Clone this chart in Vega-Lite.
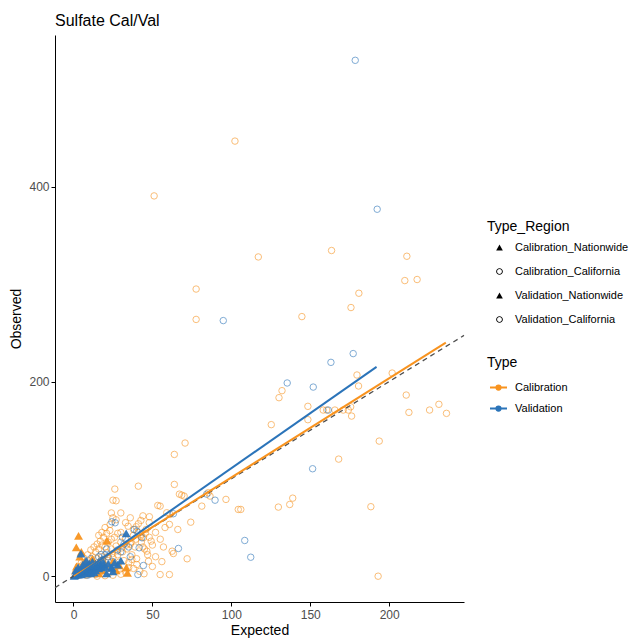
{
  "$schema": "https://vega.github.io/schema/vega-lite/v6.json",
  "width": 409,
  "height": 567,
  "autosize": {"type": "none"},
  "padding": {"left": 55, "top": 35, "right": 167, "bottom": 37},
  "background": "white",
  "title": {"text": "Sulfate Cal/Val", "anchor": "start", "frame": "group", "fontSize": 16, "font": "Liberation Sans", "fontWeight": "normal", "color": "#000000", "offset": 10, "baseline": "alphabetic", "dy": 17},
  "config": {
    "view": {"stroke": null},
    "font": "Liberation Sans",
    "axis": {"grid": false, "domainColor": "#000000", "domainWidth": 1, "tickColor": "#000000", "tickSize": 4, "tickWidth": 1, "labelColor": "#4D4D4D", "labelFontSize": 12, "labelFont": "Liberation Sans", "titleFont": "Liberation Sans", "titleFontSize": 14, "titleFontWeight": "normal", "titleColor": "#000000"},
    "legend": {"titleFont": "Liberation Sans", "titleFontSize": 14, "titleFontWeight": "normal", "titleColor": "#000000", "labelFont": "Liberation Sans", "labelFontSize": 11, "labelColor": "#000000"}
  },
  "datasets": {
    "cc": [
      {"e":102.3,"o":447},{"e":51.1,"o":390.7},{"e":163.5,"o":334.6},{"e":117.1,"o":328},{"e":211.2,"o":328.7},{"e":209.9,"o":303.7},{"e":217.7,"o":304.8},{"e":77.7,"o":295},{"e":180.8,"o":290.7},{"e":175.8,"o":276},{"e":77.7,"o":263.8},{"e":144.7,"o":266.7},
      {"e":179.6,"o":206.7},{"e":180.6,"o":195.4},{"e":201.9,"o":208.7},{"e":210.8,"o":186.1},{"e":212.5,"o":168.3},{"e":225.6,"o":170.7},{"e":231.5,"o":176.6},{"e":236.3,"o":167.3},{"e":132.1,"o":190.6},{"e":130.2,"o":183.4},{"e":148.5,"o":174.5},{"e":148.5,"o":160.8},{"e":125.3,"o":155.7},
      {"e":158.2,"o":170.7},{"e":160.4,"o":170.7},{"e":165.6,"o":170.7},{"e":170.9,"o":170.7},{"e":174.1,"o":170.7},{"e":175.6,"o":174},{"e":176.2,"o":164.5},{"e":193.7,"o":138.8},{"e":168,"o":120.3},{"e":193,"o":0},
      {"e":106,"o":68.6},{"e":129.8,"o":71},{"e":137,"o":73.7},{"e":138.9,"o":80.2},{"e":188.4,"o":71.4},
      {"e":63.9,"o":125.1},{"e":70.7,"o":136.8},{"e":63.9,"o":94.3},{"e":26.2,"o":89.5},{"e":41.1,"o":92.5},
      {"e":27,"o":77.5},{"e":25,"o":78.1},{"e":67.1,"o":84.3},{"e":68.6,"o":83.3},{"e":70.1,"o":82.3},{"e":85.4,"o":85.8},{"e":86.5,"o":82.3},{"e":81.3,"o":72},{"e":53.4,"o":72.7},{"e":54.9,"o":72},{"e":59.1,"o":65.2},{"e":61.2,"o":63.4},{"e":48.1,"o":61.1},{"e":74.3,"o":55.5},{"e":66.1,"o":48},{"e":60.8,"o":53.2},{"e":42.7,"o":57.3},{"e":41.1,"o":53.9},{"e":39.7,"o":50.8},{"e":38,"o":48},{"e":34.6,"o":51.4},{"e":23.2,"o":53.2},{"e":42.8,"o":42.9},{"e":44.3,"o":39.5},{"e":49.2,"o":36},{"e":62.5,"o":25.7},{"e":63.3,"o":23.3},{"e":72,"o":17.9},{"e":46.5,"o":25.7},{"e":47.5,"o":15.4},{"e":37,"o":17.2},{"e":40.1,"o":12},{"e":28.9,"o":14.4},{"e":54.9,"o":1.7},{"e":60.8,"o":1.7},{"e":96.6,"o":78.9},{"e":104.4,"o":68.6},{"e":44.7,"o":2.5},
      {"e":2,"o":3},{"e":3,"o":1},{"e":4,"o":6},{"e":5,"o":2},{"e":6,"o":8},{"e":7,"o":4},{"e":8,"o":10},{"e":9,"o":3},{"e":10,"o":12},{"e":11,"o":6},{"e":12,"o":15},{"e":13,"o":9},{"e":14,"o":2},{"e":15,"o":18},{"e":16,"o":11},{"e":17,"o":5},{"e":18,"o":20},{"e":19,"o":13},{"e":20,"o":8},{"e":21,"o":24},{"e":22,"o":16},{"e":23,"o":4},{"e":24,"o":28},{"e":25,"o":19},{"e":26,"o":11},{"e":27,"o":31},{"e":28,"o":22},{"e":29,"o":7},{"e":30,"o":35},{"e":31,"o":25},{"e":32,"o":16},{"e":33,"o":38},{"e":34,"o":28},{"e":35,"o":9},{"e":36,"o":33},{"e":37,"o":22},{"e":38,"o":42},{"e":39,"o":30},{"e":40,"o":18},{"e":41,"o":45},{"e":43,"o":35},{"e":45,"o":28},{"e":46,"o":48},{"e":48,"o":40},{"e":50,"o":32},{"e":52,"o":45},{"e":55,"o":38},{"e":57,"o":30},{"e":58,"o":50},
      {"e":3,"o":10},{"e":5,"o":14},{"e":7,"o":18},{"e":9,"o":22},{"e":11,"o":27},{"e":13,"o":30},{"e":15,"o":33},{"e":17,"o":36},{"e":19,"o":40},{"e":21,"o":44},{"e":23,"o":47},{"e":14,"o":25},{"e":16,"o":28},{"e":18,"o":32},{"e":20,"o":30},{"e":22,"o":35},{"e":24,"o":38},{"e":26,"o":40},{"e":28,"o":44},{"e":30,"o":45},{"e":12,"o":20},{"e":10,"o":5},{"e":8,"o":1},{"e":6,"o":12},{"e":4,"o":9},{"e":2,"o":6},{"e":1,"o":2},{"e":1.5,"o":4},{"e":3.5,"o":3.5},{"e":6.5,"o":5.5},{"e":9.5,"o":8},{"e":12.5,"o":11},{"e":15.5,"o":14},{"e":18.5,"o":17},{"e":21.5,"o":20},{"e":24.5,"o":23},{"e":27.5,"o":26},{"e":30.5,"o":29},{"e":33.5,"o":32},{"e":36.5,"o":35},{"e":39.5,"o":38},{"e":42.5,"o":41},{"e":45.5,"o":44},
      {"e":25,"o":60},{"e":27,"o":58},{"e":24,"o":65},{"e":33,"o":55},{"e":36,"o":60},{"e":30,"o":65},{"e":44,"o":62},{"e":48,"o":55},{"e":20,"o":50},{"e":18,"o":45},{"e":16,"o":42},{"e":35,"o":14},{"e":38,"o":8},{"e":42,"o":5},{"e":50,"o":10},{"e":52,"o":20},{"e":56,"o":15},{"e":30,"o":2},{"e":25,"o":1},{"e":20,"o":0.5},{"e":33,"o":4},{"e":15,"o":0},{"e":44,"o":30},{"e":47,"o":22}
    ],
    "vc": [
      {"e":178.5,"o":530},{"e":192.4,"o":377},{"e":94.9,"o":262.6},{"e":177.2,"o":228.7},{"e":163.1,"o":219.7},{"e":135.4,"o":198.5},{"e":151.9,"o":194.3},{"e":161.4,"o":170.7},{"e":151.5,"o":110.4},{"e":108.5,"o":36.7},{"e":112.3,"o":19.5},{"e":84.4,"o":84.3},{"e":89.7,"o":78.1},{"e":63.3,"o":64.2},{"e":38.6,"o":48},{"e":24.3,"o":55.9},{"e":26.4,"o":54.9},{"e":43.3,"o":39.5},{"e":41.6,"o":29.2},{"e":66.5,"o":28.5},{"e":44.3,"o":11},{"e":40.8,"o":1.7},{"e":17.5,"o":22.3},{"e":40.1,"o":46.3},
      {"e":5,"o":5},{"e":8,"o":7},{"e":10,"o":9},{"e":12,"o":14},{"e":15,"o":12},{"e":18,"o":16},{"e":20,"o":22},{"e":22,"o":20},{"e":25,"o":15},{"e":28,"o":27},{"e":30,"o":25},{"e":32,"o":33},{"e":35,"o":30},{"e":14,"o":4},{"e":9,"o":1},{"e":3,"o":2},{"e":6,"o":3},{"e":19,"o":8},{"e":27,"o":10},{"e":36,"o":20},{"e":11,"o":18},{"e":7,"o":12},{"e":16,"o":20},{"e":21,"o":28},{"e":31,"o":40}
    ],
    "cn": [
      {"e":3.2,"o":41.5},{"e":1.8,"o":29.5},{"e":21.2,"o":36.5},{"e":4,"o":20},{"e":7,"o":15},{"e":10,"o":12},{"e":13,"o":8},{"e":24.3,"o":8.6},{"e":33.5,"o":8.8},{"e":34.2,"o":3.5},{"e":6,"o":5},{"e":9,"o":3},{"e":15,"o":10},{"e":18,"o":6},{"e":2,"o":10},{"e":5,"o":25},{"e":12,"o":18},{"e":20,"o":12},{"e":27,"o":6},{"e":1,"o":1},{"e":3,"o":3},{"e":16,"o":3},{"e":25,"o":15},{"e":29,"o":11}
    ],
    "vn": [
      {"e":1,"o":1},{"e":2,"o":2},{"e":3,"o":1.5},{"e":4,"o":3},{"e":5,"o":2},{"e":6,"o":4},{"e":7,"o":5},{"e":8,"o":3},{"e":9,"o":6},{"e":10,"o":7},{"e":11,"o":5},{"e":12,"o":8},{"e":13,"o":9},{"e":14,"o":6},{"e":15,"o":10},{"e":16,"o":8},{"e":17,"o":11},{"e":18,"o":9},{"e":19,"o":12},{"e":20,"o":10},{"e":22,"o":13},{"e":24,"o":9},{"e":26,"o":14},{"e":28,"o":12},{"e":30,"o":16},{"e":3,"o":5},{"e":5,"o":7},{"e":7,"o":9},{"e":9,"o":11},{"e":2,"o":4},{"e":4,"o":6},{"e":6,"o":8},{"e":8,"o":10},{"e":10,"o":13},{"e":12,"o":15},{"e":14,"o":13},{"e":16,"o":15},{"e":18,"o":17},{"e":11,"o":3},{"e":13,"o":4},{"e":4.7,"o":23.3},{"e":33.4,"o":44},{"e":24.3,"o":8.6},{"e":21,"o":3},{"e":25,"o":5},{"e":6,"o":12},{"e":1.5,"o":6},{"e":0.5,"o":0.3},{"e":3,"o":9},{"e":8,"o":16}
    ],
    "fit": [
      {"Type":"Calibration","e":0.3,"o":-0.2},{"Type":"Calibration","e":235.9,"o":240},
      {"Type":"Validation","e":0.5,"o":-1.7},{"Type":"Validation","e":192,"o":215}
    ],
    "ref": [{"e":-11.7,"o":-11.7},{"e":247.4,"o":247.4}]
  },
  "encoding": {
    "x": {"field": "e", "type": "quantitative", "title": "Expected", "scale": {"domain": [-11.7, 247.4], "nice": false, "zero": false}, "axis": {"values": [0, 50, 100, 150, 200], "labelPadding": 3, "titlePadding": 3}},
    "y": {"field": "o", "type": "quantitative", "title": "Observed", "scale": {"domain": [-26.5, 556], "nice": false, "zero": false}, "axis": {"values": [0, 200, 400], "labelPadding": 2, "titlePadding": 5}}
  },
  "layer": [
    {
      "data": {"name": "cc"},
      "mark": {"type": "point", "shape": "circle", "filled": false, "size": 42, "strokeWidth": 1, "opacity": 0.6},
      "encoding": {"color": {"datum": "Calibration", "type": "nominal"}}
    },
    {
      "data": {"name": "vc"},
      "mark": {"type": "point", "shape": "circle", "filled": false, "size": 42, "strokeWidth": 1, "opacity": 0.6},
      "encoding": {"color": {"datum": "Validation", "type": "nominal"}}
    },
    {
      "data": {"name": "cn"},
      "mark": {"type": "point", "shape": "triangle-up", "filled": true, "size": 80, "opacity": 0.95},
      "encoding": {"color": {"datum": "Calibration", "type": "nominal"}}
    },
    {
      "data": {"name": "vn"},
      "mark": {"type": "point", "shape": "triangle-up", "filled": true, "size": 80, "opacity": 0.95},
      "encoding": {"color": {"datum": "Validation", "type": "nominal"}}
    },
    {
      "data": {"name": "ref"},
      "mark": {"type": "point", "filled": true, "opacity": 0, "size": 1, "color": "#000000"},
      "encoding": {
        "shape": {
          "datum": "Calibration_Nationwide", "type": "nominal",
          "scale": {"domain": ["Calibration_Nationwide", "Calibration_California", "Validation_Nationwide", "Validation_California"], "range": ["triangle-up", "M1,0A1,1 0 1,1 -1,0A1,1 0 1,1 1,0ZM0.72,0A0.72,0.72 0 1,0 -0.72,0A0.72,0.72 0 1,0 0.72,0Z", "triangle-up", "M1,0A1,1 0 1,1 -1,0A1,1 0 1,1 1,0ZM0.72,0A0.72,0.72 0 1,0 -0.72,0A0.72,0.72 0 1,0 0.72,0Z"]},
          "legend": {"title": "Type_Region", "orient": "none", "legendX": 432, "legendY": 185, "symbolSize": 45, "symbolStrokeWidth": 0, "symbolOffset": 7, "labelOffset": 10, "rowPadding": 12, "titlePadding": 8, "symbolStrokeColor": "#000000", "symbolFillColor": "#000000", "symbolOpacity": 1}
        }
      }
    },
    {
      "data": {"name": "ref"},
      "mark": {"type": "line", "color": "#505050", "strokeWidth": 1.3, "strokeDash": [5, 4]},
      "encoding": {}
    },
    {
      "data": {"name": "fit"},
      "mark": {"type": "line", "strokeWidth": 2},
      "encoding": {
        "color": {
          "field": "Type", "type": "nominal",
          "scale": {"domain": ["Calibration", "Validation"], "range": ["#F8931F", "#2B74B9"]},
          "legend": {"title": "Type", "orient": "none", "legendX": 432, "legendY": 321, "symbolType": "M-1,0L1,0M-0.25,0A0.25,0.25 0 1 1 0.25,0A0.25,0.25 0 1 1 -0.25,0Z", "symbolSize": 289, "symbolStrokeWidth": 2, "symbolOffset": 2, "labelOffset": 7, "rowPadding": 5, "titlePadding": 8,
            "encode": {"symbols": {"update": {"fill": {"scale": "color", "field": "value"}, "stroke": {"scale": "color", "field": "value"}, "opacity": {"value": 1}}}}}
        }
      }
    }
  ]
}
